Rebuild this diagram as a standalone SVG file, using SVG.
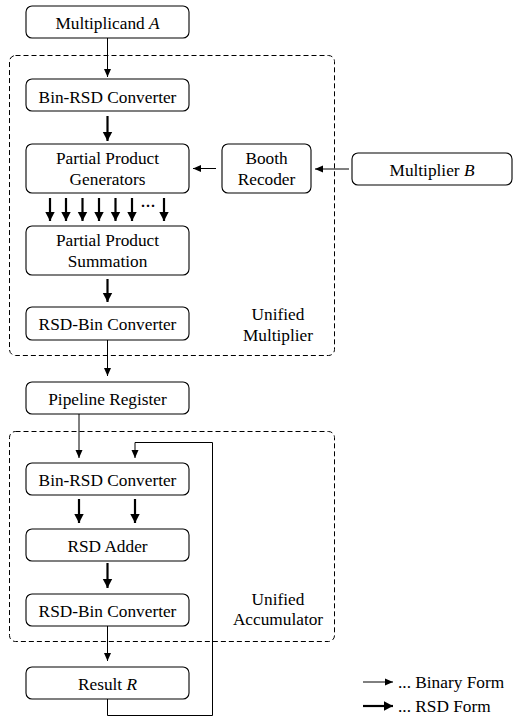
<svg xmlns="http://www.w3.org/2000/svg" width="513" height="720" viewBox="0 0 513 720" font-family="Liberation Serif, Times New Roman, serif">
<style>
.box{fill:#fff;stroke:#000;stroke-width:1.1}
.dash{fill:none;stroke:#000;stroke-width:1;stroke-dasharray:5,3}
.t{font-size:17.3px;fill:#000;text-anchor:middle}
.thin{fill:none;stroke:#000;stroke-width:1}
.thick{fill:none;stroke:#000;stroke-width:2.2}
</style>
<defs>
<marker id="ah" markerWidth="9" markerHeight="9" refX="8" refY="4.5" orient="auto" markerUnits="userSpaceOnUse">
<path d="M0,1 L8,4.5 L0,8 Z" fill="#000"/>
</marker>
<marker id="ahb" markerWidth="11" markerHeight="11" refX="9" refY="5.5" orient="auto" markerUnits="userSpaceOnUse">
<path d="M0,0.8 L9,5.5 L0,10.2 Z" fill="#000"/>
</marker>
</defs>
<g id="unified-multiplier">
<rect class="dash" x="9.5" y="55.5" width="325" height="300" rx="6"/>
<text class="t" x="278" y="320">Unified</text>
<text class="t" x="278" y="341">Multiplier</text>
</g>
<g id="unified-accumulator">
<rect class="dash" x="9.5" y="431.5" width="325" height="210" rx="6"/>
<text class="t" x="278" y="605">Unified</text>
<text class="t" x="278" y="625">Accumulator</text>
</g>
<g id="connectors">
<line class="thin" x1="107.5" y1="38" x2="107.5" y2="77" marker-end="url(#ah)"/>
<line class="thick" x1="107.5" y1="116" x2="107.5" y2="141" marker-end="url(#ahb)"/>
<line class="thin" x1="216" y1="168.5" x2="193" y2="168.5" marker-end="url(#ah)"/>
<line class="thin" x1="349" y1="169" x2="315" y2="169" marker-end="url(#ah)"/>
<line class="thick" x1="50" y1="198" x2="50" y2="221" marker-end="url(#ahb)"/>
<line class="thick" x1="66" y1="198" x2="66" y2="221" marker-end="url(#ahb)"/>
<line class="thick" x1="82.5" y1="198" x2="82.5" y2="221" marker-end="url(#ahb)"/>
<line class="thick" x1="99" y1="198" x2="99" y2="221" marker-end="url(#ahb)"/>
<line class="thick" x1="115.5" y1="198" x2="115.5" y2="221" marker-end="url(#ahb)"/>
<line class="thick" x1="132" y1="198" x2="132" y2="221" marker-end="url(#ahb)"/>
<line class="thick" x1="164" y1="198" x2="164" y2="221" marker-end="url(#ahb)"/>
<line class="thick" x1="107.5" y1="279" x2="107.5" y2="302" marker-end="url(#ahb)"/>
<line class="thin" x1="107.5" y1="340" x2="107.5" y2="376" marker-end="url(#ah)"/>
<line class="thin" x1="79" y1="414" x2="79" y2="458" marker-end="url(#ah)"/>
<polyline class="thin" points="107.5,699 107.5,715.5 212.5,715.5 212.5,442.5 135,442.5 135,458" marker-end="url(#ah)"/>
<line class="thick" x1="79" y1="499" x2="79" y2="523" marker-end="url(#ahb)"/>
<line class="thick" x1="135" y1="499" x2="135" y2="523" marker-end="url(#ahb)"/>
<line class="thick" x1="107.5" y1="563" x2="107.5" y2="588" marker-end="url(#ahb)"/>
<line class="thin" x1="107.5" y1="626" x2="107.5" y2="661" marker-end="url(#ah)"/>
</g>
<text class="t" x="148" y="211" style="font-size:15px;font-weight:bold">···</text>
<g id="multiplicand-a">
<rect class="box" x="26" y="6" width="163" height="32" rx="6"/>
<text class="t" x="107.5" y="28.5">Multiplicand <tspan font-style="italic">A</tspan></text>
</g>
<g id="bin-rsd-1">
<rect class="box" x="26" y="79" width="163" height="32" rx="6"/>
<text class="t" x="107.5" y="102.5">Bin-RSD Converter</text>
</g>
<g id="pp-generators">
<rect class="box" x="26" y="144" width="163" height="49" rx="6"/>
<text class="t" x="107.5" y="163.5">Partial Product</text>
<text class="t" x="107.5" y="184.5">Generators</text>
</g>
<g id="booth-recoder">
<rect class="box" x="222" y="144" width="89" height="49" rx="6"/>
<text class="t" x="266.5" y="163.5">Booth</text>
<text class="t" x="266.5" y="184.5">Recoder</text>
</g>
<g id="multiplier-b">
<rect class="box" x="352" y="153" width="160" height="32" rx="6"/>
<text class="t" x="432" y="175.5">Multiplier <tspan font-style="italic">B</tspan></text>
</g>
<g id="pp-summation">
<rect class="box" x="26" y="226" width="163" height="49" rx="6"/>
<text class="t" x="107.5" y="245.5">Partial Product</text>
<text class="t" x="107.5" y="266.5">Summation</text>
</g>
<g id="rsd-bin-1">
<rect class="box" x="26" y="307" width="163" height="33" rx="6"/>
<text class="t" x="107.5" y="330">RSD-Bin Converter</text>
</g>
<g id="pipeline-register">
<rect class="box" x="26" y="382" width="163" height="32" rx="6"/>
<text class="t" x="107.5" y="404.5">Pipeline Register</text>
</g>
<g id="bin-rsd-2">
<rect class="box" x="26" y="463" width="163" height="32" rx="6"/>
<text class="t" x="107.5" y="486">Bin-RSD Converter</text>
</g>
<g id="rsd-adder">
<rect class="box" x="26" y="529" width="163" height="32" rx="6"/>
<text class="t" x="107.5" y="552">RSD Adder</text>
</g>
<g id="rsd-bin-2">
<rect class="box" x="26" y="594" width="163" height="32" rx="6"/>
<text class="t" x="107.5" y="617">RSD-Bin Converter</text>
</g>
<g id="result-r">
<rect class="box" x="26" y="667" width="163" height="32" rx="6"/>
<text class="t" x="107.5" y="689.5">Result <tspan font-style="italic">R</tspan></text>
</g>
<g id="legend">
<line class="thin" x1="363" y1="682" x2="393" y2="682" marker-end="url(#ah)"/>
<text class="t" x="398" y="688" style="text-anchor:start">... Binary Form</text>
<line class="thick" x1="363" y1="706" x2="393" y2="706" marker-end="url(#ahb)"/>
<text class="t" x="398" y="712" style="text-anchor:start">... RSD Form</text>
</g>
</svg>
